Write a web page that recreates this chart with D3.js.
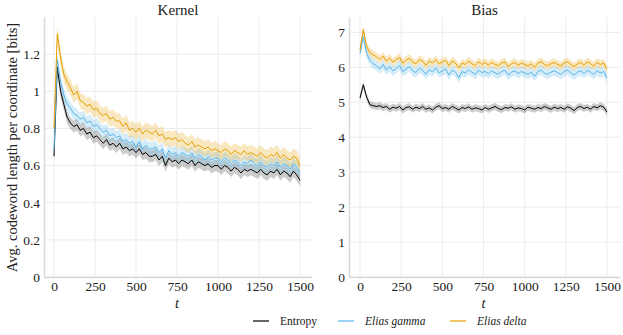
<!DOCTYPE html>
<html><head><meta charset="utf-8">
<script src="https://cdn.jsdelivr.net/npm/d3@7"></script>
<style>
body{margin:0;background:#fff;}
svg text{font-family:"Liberation Serif","DejaVu Serif",serif !important;fill:#222;}
</style></head>
<body><svg id="c" width="623" height="335"></svg>
<script>
const tStep = 20;
const seriesNames = ["Entropy", "Elias gamma", "Elias delta"];
const seriesColors = ["#000000", "#56B4E9", "#E69F00"];

const kernelEntropy = [0.65,1.13,1.00,0.93,0.86,0.83,0.81,0.82,0.79,0.80,
0.77,0.78,0.75,0.76,0.74,0.72,0.74,0.71,0.72,0.70,
0.72,0.69,0.70,0.68,0.69,0.67,0.69,0.66,0.67,0.65,
0.65,0.66,0.63,0.65,0.60,0.64,0.62,0.63,0.61,0.63,
0.62,0.61,0.63,0.60,0.62,0.61,0.60,0.61,0.59,0.60,
0.60,0.58,0.60,0.59,0.57,0.59,0.58,0.56,0.58,0.57,
0.58,0.57,0.56,0.58,0.56,0.55,0.57,0.56,0.58,0.55,
0.57,0.56,0.54,0.57,0.55,0.52];
const kernelGamma = [0.68,1.17,1.05,0.98,0.93,0.91,0.88,0.87,0.85,0.86,
0.83,0.84,0.81,0.82,0.80,0.78,0.79,0.76,0.77,0.75,
0.76,0.73,0.74,0.72,0.73,0.70,0.73,0.69,0.71,0.69,
0.69,0.70,0.67,0.69,0.64,0.68,0.66,0.67,0.65,0.67,
0.66,0.65,0.67,0.64,0.66,0.65,0.63,0.65,0.63,0.64,
0.64,0.62,0.64,0.63,0.61,0.63,0.62,0.60,0.62,0.61,
0.63,0.61,0.60,0.62,0.60,0.59,0.61,0.60,0.62,0.59,
0.61,0.60,0.58,0.61,0.59,0.56];
const kernelDelta = [0.80,1.31,1.18,1.09,1.05,1.02,0.98,1.00,0.95,0.94,
0.92,0.93,0.90,0.91,0.88,0.87,0.88,0.85,0.86,0.84,
0.84,0.81,0.83,0.79,0.80,0.78,0.80,0.77,0.79,0.78,
0.77,0.79,0.76,0.77,0.74,0.75,0.74,0.75,0.73,0.74,
0.72,0.71,0.73,0.70,0.71,0.70,0.69,0.70,0.68,0.69,
0.68,0.67,0.69,0.68,0.66,0.68,0.67,0.66,0.68,0.66,
0.67,0.66,0.65,0.67,0.65,0.64,0.66,0.65,0.67,0.64,
0.66,0.64,0.63,0.65,0.64,0.60];

const biasEntropy = [5.12,5.50,5.15,4.93,4.90,4.88,4.90,4.85,4.88,4.80,
4.86,4.83,4.88,4.78,4.85,4.87,4.80,4.86,4.82,4.88,
4.80,4.84,4.78,4.86,4.90,4.82,4.85,4.80,4.88,4.83,
4.78,4.85,4.82,4.87,4.80,4.84,4.82,4.78,4.85,4.80,
4.84,4.88,4.82,4.79,4.85,4.83,4.87,4.80,4.84,4.82,
4.78,4.86,4.83,4.80,4.85,4.82,4.88,4.84,4.80,4.86,
4.82,4.85,4.80,4.87,4.83,4.76,4.85,4.88,4.82,4.86,
4.80,4.88,4.84,4.90,4.86,4.72];
const biasGamma = [6.40,6.88,6.40,6.20,6.10,6.05,5.95,6.08,5.92,6.02,
5.90,5.96,6.05,5.88,5.95,6.02,5.90,5.85,5.97,5.92,
5.80,5.93,5.87,5.98,5.84,5.90,5.95,5.78,5.92,5.86,
5.70,5.88,5.84,5.93,5.86,5.80,5.92,5.85,5.88,5.82,
5.90,5.84,5.80,5.88,5.92,5.78,5.86,5.90,5.82,5.88,
5.84,5.80,5.86,5.74,5.88,5.92,5.84,5.80,5.86,5.90,
5.85,5.80,5.88,5.92,5.84,5.78,5.86,5.90,5.82,5.92,
5.86,5.80,5.90,5.84,5.88,5.70];
const biasDelta = [6.50,7.08,6.60,6.42,6.36,6.30,6.22,6.32,6.18,6.26,
6.15,6.22,6.28,6.12,6.20,6.26,6.15,6.10,6.22,6.18,
6.05,6.18,6.12,6.22,6.10,6.15,6.20,6.05,6.18,6.12,
5.98,6.12,6.08,6.18,6.10,6.05,6.16,6.08,6.14,6.06,
6.14,6.08,6.05,6.12,6.16,6.02,6.10,6.14,6.06,6.12,
6.08,6.04,6.10,6.00,6.12,6.16,6.08,6.05,6.10,6.14,
6.08,6.04,6.12,6.16,6.08,6.02,6.10,6.14,6.06,6.16,
6.10,6.04,6.14,6.08,6.12,5.95];

const kernelSpread = [0.032, 0.035, 0.042];
const biasSpread = [0.10, 0.14, 0.12];

const xTicks = [0,250,500,750,1000,1250,1500];
const kernelTicks = [0,0.2,0.4,0.6,0.8,1,1.2];
const biasTicks = [0,1,2,3,4,5,6,7];

const FONT = '"Liberation Serif","DejaVu Serif",serif';
const svg = d3.select("#c");

function panel(cfg){
  const g = svg.append("g");
  const x = d3.scaleLinear().domain(cfg.xDom).range([cfg.left, cfg.right]);
  const y = d3.scaleLinear().domain(cfg.yDom).range([cfg.bottom, cfg.top]);
  g.append("g").selectAll("line").data(xTicks).join("line")
    .attr("x1", d=>x(d)).attr("x2", d=>x(d)).attr("y1", cfg.top).attr("y2", cfg.bottom)
    .attr("stroke", "#ebebeb").attr("stroke-width", 1);
  g.append("g").selectAll("line").data(cfg.yTicks).join("line")
    .attr("x1", cfg.left).attr("x2", cfg.right).attr("y1", d=>y(d)).attr("y2", d=>y(d))
    .attr("stroke", "#ebebeb").attr("stroke-width", 1);
  const ax = g.append("g").attr("transform", `translate(0,${cfg.bottom})`)
    .call(d3.axisBottom(x).tickValues(xTicks).tickSize(0).tickPadding(4).tickFormat(d3.format("d")))
    .attr("font-family", FONT);
  ax.select(".domain").attr("stroke", "#d9d9d9").attr("stroke-width", 1.5);
  ax.selectAll("text").attr("font-size", 13.5).attr("fill","#222");
  const ay = g.append("g").attr("transform", `translate(${cfg.left},0)`)
    .call(d3.axisLeft(y).tickValues(cfg.yTicks).tickSize(0).tickPadding(4).tickFormat(d=>String(+d.toFixed(1))))
    .attr("font-family", FONT);
  ay.select(".domain").attr("stroke", "#d9d9d9").attr("stroke-width", 1.5);
  ay.selectAll("text").attr("font-size", 13.5).attr("fill","#222");

  cfg.series.forEach((vals, i) => {
    const data = vals.map((v, k) => ({t: k*tStep, v}));
    const sd = cfg.spread[i];
    g.append("path").datum(data)
      .attr("fill", seriesColors[i]).attr("fill-opacity", i===0 ? 0.2 : 0.25)
      .attr("d", d3.area().x(d=>x(d.t)).y0(d=>y(d.v - sd)).y1(d=>y(d.v + sd)));
  });
  cfg.series.forEach((vals, i) => {
    const data = vals.map((v, k) => ({t: k*tStep, v}));
    g.append("path").datum(data)
      .attr("fill", "none").attr("stroke", seriesColors[i]).attr("stroke-width", 1)
      .attr("d", d3.line().x(d=>x(d.t)).y(d=>y(d.v)));
  });

  g.append("text").attr("x", (cfg.left+cfg.right)/2).attr("y", 14.5)
    .attr("text-anchor","middle").attr("font-size", 15).text(cfg.title);
  g.append("text").attr("x", x(750)).attr("y", 308)
    .attr("text-anchor","middle").attr("font-size", 14.5).attr("font-style","italic").text("t");
}

panel({title:"Kernel", left:44, right:312, top:17, bottom:277, xDom:[-61,1573], yDom:[0,1.4],
  yTicks:kernelTicks, series:[kernelEntropy,kernelGamma,kernelDelta], spread:kernelSpread});
panel({title:"Bias", left:349, right:620, top:17, bottom:277, xDom:[-67,1579], yDom:[0,7.44],
  yTicks:biasTicks, series:[biasEntropy,biasGamma,biasDelta], spread:biasSpread});

svg.append("text").attr("transform","translate(17,147.5) rotate(-90)")
  .attr("text-anchor","middle").attr("font-size",14.5).text("Avg. codeword length per coordinate [bits]");

const legendX = [253, 338, 450];
const lg = svg.append("g");
seriesNames.forEach((n,i)=>{
  lg.append("line").attr("x1", legendX[i]).attr("x2", legendX[i]+16).attr("y1",321).attr("y2",321)
    .attr("stroke", seriesColors[i]).attr("stroke-width",1.2);
  lg.append("text").attr("x", legendX[i]+27).attr("y",325).attr("font-size",11.5)
    .attr("font-style", i===0 ? "normal" : "italic").text(n);
});
</script></body></html>
